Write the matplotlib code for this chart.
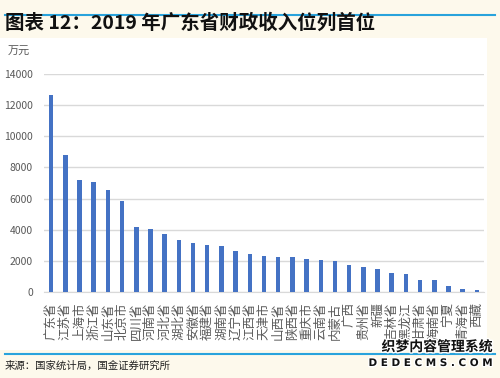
import matplotlib.pyplot as plt
import matplotlib.patheffects as pe
from matplotlib.patches import Rectangle
from matplotlib.lines import Line2D

plt.rcParams['font.family'] = ['Noto Sans CJK SC', 'DejaVu Sans']

provinces = ["广东省", "江苏省", "上海市", "浙江省", "山东省", "北京市", "四川省", "河南省",
             "河北省", "湖北省", "安徽省", "福建省", "湖南省", "辽宁省", "江西省", "天津市",
             "山西省", "陕西省", "重庆市", "云南省", "内蒙古", "广西", "贵州省", "新疆",
             "吉林省", "黑龙江", "甘肃省", "海南省", "宁夏", "青海省", "西藏"]
revenue = [12651, 8802, 7165, 7048, 6527, 5817, 4180, 4030, 3720, 3380, 3150, 3040, 2990,
           2620, 2450, 2350, 2290, 2240, 2120, 2060, 2000, 1760, 1650, 1510, 1250, 1180,
           800, 790, 390, 240, 160]
yticks = [0, 2000, 4000, 6000, 8000, 10000, 12000, 14000]

fig = plt.figure(figsize=(5, 3.78), dpi=100)
fig.patch.set_facecolor('#fdf9ec')
fig.add_artist(Rectangle((0, 1 - 350 / 378), 487 / 500, (350 - 38) / 378,
                         transform=fig.transFigure, facecolor='white', edgecolor='none', zorder=0))

ax = fig.add_axes([0.088, 0.2267, 0.88, 0.5783])
ax.set_facecolor('white')
x = range(len(provinces))
ax.bar(x, revenue, width=0.32, color='#4472c4', zorder=3)
ax.set_xlim(-0.5, len(provinces) - 0.5)
ax.set_ylim(0, 14000)
ax.set_yticks(yticks)
ax.set_yticklabels([str(v) for v in yticks], fontsize=7.5, color='#595959')
ax.set_xticks(list(x))
ax.set_xticklabels(provinces, fontsize=9, color='#595959', rotation=90)
ax.tick_params(axis='both', length=0)
ax.tick_params(axis='x', pad=7)
ax.tick_params(axis='y', pad=8)
ax.grid(axis='y', color='#d9d9d9', linewidth=1, zorder=0)
for s in ['top', 'right', 'left']:
    ax.spines[s].set_visible(False)
ax.spines['bottom'].set_color('#d9d9d9')

fig.text(0.016, 1 - 52 / 378, "万元", fontsize=8, color='#595959', va='center')

fig.text(0.01, 1 - 23 / 378, "图表 12：2019 年广东省财政收入位列首位", fontsize=14,
         fontweight='bold', style='italic', color='#111111', va='center')
fig.add_artist(Line2D([0.01, 0.99], [1 - 15 / 378, 1 - 15 / 378], transform=fig.transFigure,
                      color='#29a3dc', linewidth=1.5))
fig.add_artist(Line2D([0.01, 0.99], [1 - 354 / 378, 1 - 354 / 378], transform=fig.transFigure,
                      color='#29a3dc', linewidth=1.5))
fig.text(0.01, 1 - 366 / 378, "来源：国家统计局，国金证券研究所", fontsize=7.5,
         color='#222222', va='center')

# watermark
outline = [pe.withStroke(linewidth=2, foreground='white')]
fig.text(0.985, 1 - 347 / 378, "织梦内容管理系统", fontsize=10, fontweight='bold',
         color='#111111', ha='right', va='center', path_effects=outline)
fig.text(0.985, 1 - 363 / 378, "D E D E C M S . C O M", fontsize=7.5, fontweight='bold',
         color='#111111', ha='right', va='center', family='DejaVu Sans', path_effects=outline)

fig.savefig("out.png", dpi=100, facecolor=fig.get_facecolor())
